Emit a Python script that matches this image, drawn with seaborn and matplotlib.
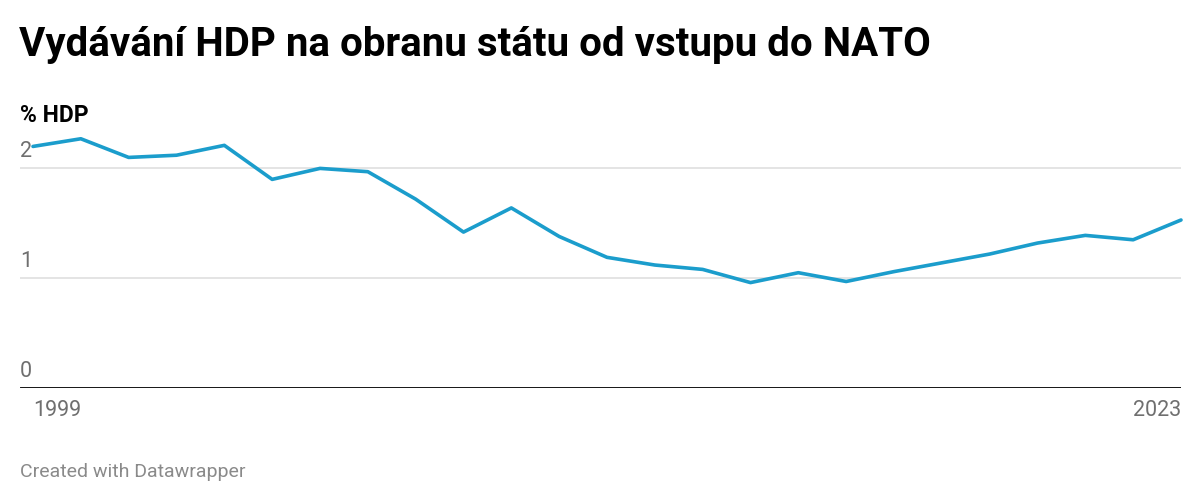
import matplotlib
matplotlib.use('Agg')
import matplotlib.pyplot as plt
import matplotlib.transforms as mtransforms
import seaborn as sns
import pandas as pd

# Data (% of GDP spent on defence)
years = list(range(1999, 2024))
spending = [2.20, 2.27, 2.10, 2.12, 2.21, 1.90, 2.00, 1.97, 1.72, 1.42,
            1.64, 1.38, 1.19, 1.12, 1.08, 0.96, 1.05, 0.97, 1.06, 1.14,
            1.22, 1.32, 1.39, 1.35, 1.53]
y_ticks = [0, 1, 2]
x_labels = ['1999', '2023']

df = pd.DataFrame({'year': years, 'hdp': spending})

sns.set_style('white')
plt.rcParams['font.family'] = ['Roboto', 'DejaVu Sans']

W, H = 1200, 504
fig = plt.figure(figsize=(W / 100, H / 100), dpi=100)
# axes from x=20 to 1181 px, y baseline at 388 px
ax = fig.add_axes([20 / W, (H - 388) / H, (1181 - 20) / W, (388 - 130) / H])

step = (1181 - 33) / 24
ax.set_xlim(1999 - 13 / step, 2023)
ax.set_ylim(0, (388 - 130) / 109.8)

# gridlines
for t in y_ticks[1:]:
    ax.axhline(t, color='#e2e2e2', lw=1.3, zorder=1)
ax.axhline(0, color='#000000', lw=2.0, zorder=3)

sns.lineplot(data=df, x='year', y='hdp', ax=ax, color='#1b9dcc', lw=2.6,
             zorder=4, clip_on=False)

for s in ax.spines.values():
    s.set_visible(False)
ax.set_xticks([])
ax.set_yticks([])
ax.set_xlabel('')
ax.set_ylabel('')

tick_color = '#6f6f6f'
tick_size = 15.5

# y labels sit above the gridlines
trans = mtransforms.blended_transform_factory(ax.transAxes, ax.transData)
off = mtransforms.offset_copy(trans, fig=fig, x=0, y=6, units='dots')
for t in y_ticks:
    ax.text(0, t, str(t), transform=off, ha='left', va='bottom',
            fontsize=tick_size, color=tick_color)

# x labels
ax.text(33 / W, (H - 411) / H, x_labels[0], transform=fig.transFigure,
        ha='left', va='center', fontsize=tick_size, color=tick_color)
ax.text(1181 / W, (H - 411) / H, x_labels[1], transform=fig.transFigure,
        ha='right', va='center', fontsize=tick_size, color=tick_color)

fig.text(19 / W, (H - 45) / H, 'Vydávání HDP na obranu státu od vstupu do NATO',
         ha='left', va='center', fontsize=29, fontweight='bold', color='#000000')
fig.text(20 / W, (H - 116) / H, '% HDP', ha='left', va='center',
         fontsize=16.5, fontweight='bold', color='#000000')
fig.text(20 / W, (H - 472) / H, 'Created with Datawrapper', ha='left', va='center',
         fontsize=14, color='#8a8a8a')

fig.savefig('out.png', dpi=100)
